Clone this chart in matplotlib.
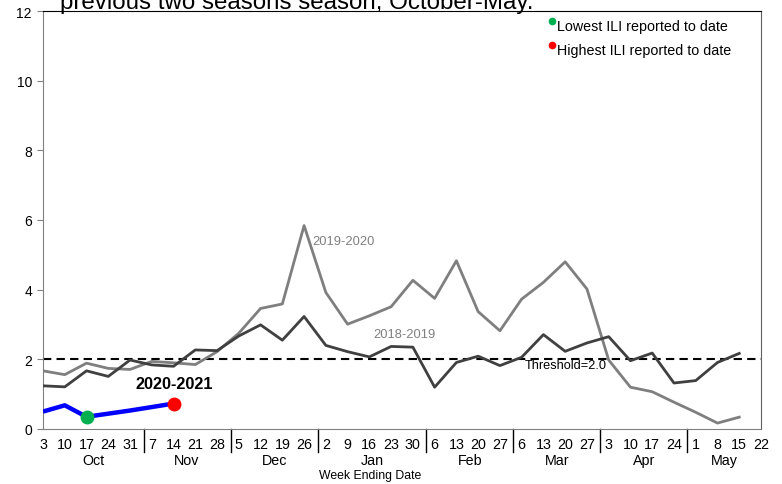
import matplotlib
matplotlib.use("Agg")
import matplotlib.pyplot as plt
import matplotlib.transforms as mtransforms

plt.rcParams['font.family'] = ['Liberation Sans', 'DejaVu Sans']

week_labels = ["3", "10", "17", "24", "31", "7", "14", "21", "28", "5", "12", "19", "26",
               "2", "9", "16", "23", "30", "6", "13", "20", "27", "6", "13", "20", "27",
               "3", "10", "17", "24", "1", "8", "15", "22"]
months = ["Oct", "Nov", "Dec", "Jan", "Feb", "Mar", "Apr", "May"]
month_weeks = [5, 4, 4, 5, 4, 4, 4, 4]

season_2018_2019 = [1.24, 1.21, 1.67, 1.51, 1.98, 1.84, 1.80, 2.27, 2.25, 2.67, 2.99, 2.55,
                    3.23, 2.40, 2.22, 2.07, 2.37, 2.35, 1.20, 1.91, 2.09, 1.82, 2.06, 2.71,
                    2.23, 2.47, 2.65, 1.96, 2.18, 1.32, 1.39, 1.91, 2.17]
season_2019_2020 = [1.67, 1.56, 1.89, 1.74, 1.71, 1.94, 1.90, 1.85, 2.22, 2.75, 3.46, 3.59,
                    5.84, 3.92, 3.01, 3.25, 3.51, 4.27, 3.75, 4.83, 3.37, 2.82, 3.73, 4.21,
                    4.80, 4.02, 1.98, 1.20, 1.07, 0.77, 0.48, 0.17, 0.34]
season_2020_2021 = [0.50, 0.68, 0.35, 0.44, 0.53, 0.63, 0.73]
threshold = 2.0

fig = plt.figure(figsize=(7.82, 4.85), dpi=100)
ax = fig.add_axes([43/782, 55/485, 718/782, 418/485])

x18 = list(range(len(season_2018_2019)))
x19 = list(range(len(season_2019_2020)))
x20 = list(range(len(season_2020_2021)))

ax.plot(x19, season_2019_2020, color='#7f7f7f', lw=2.0, zorder=3)
ax.plot(x18, season_2018_2019, color='#404040', lw=2.0, zorder=3)
ax.axhline(threshold, color='black', lw=1.5, ls=(0, (4, 2.5)), zorder=2)
ax.plot(x20, season_2020_2021, color='#0000ff', lw=3.2, zorder=4, solid_capstyle='butt')

lo = min(range(len(season_2020_2021)), key=lambda i: season_2020_2021[i])
hi = max(range(len(season_2020_2021)), key=lambda i: season_2020_2021[i])
ax.plot([lo], [season_2020_2021[lo]], 'o', color='#00b050', ms=9, zorder=5)
ax.plot([hi], [season_2020_2021[hi]], 'o', color='#ff0000', ms=9, zorder=5)

ax.set_xlim(0, len(week_labels) - 1)
ax.set_ylim(0, 12)
ax.set_yticks(range(0, 13, 2))
ax.set_xticks(range(len(week_labels)))
ax.set_xticklabels(week_labels, fontsize=10.3)
ax.tick_params(axis='x', length=0, pad=6)
ax.tick_params(axis='y', length=4, direction='out', labelsize=10, color='#808080', pad=4)

for side in ['left', 'bottom']:
    ax.spines[side].set_color('#808080')
for side in ['top', 'right']:
    ax.spines[side].set_color('black')
ax.spines['right'].set_color('#606060')

# month separators and labels
trans = mtransforms.blended_transform_factory(ax.transData, ax.transAxes)
start = 0
bounds = []
for n in month_weeks:
    bounds.append((start, start + n - 1))
    start += n
seps = []
for i in range(len(bounds) - 1):
    s = bounds[i][1] + 0.62
    seps.append(s)
    ax.plot([s, s], [0, -0.055], transform=trans, color='black', lw=1, clip_on=False)
edges = [0] + seps + [len(week_labels) - 1]
for i, m in enumerate(months):
    cx = (edges[i] + edges[i + 1]) / 2
    ax.text(cx, -0.074, m, transform=trans, ha='center', va='center', fontsize=10.3)

ax.text(0.455, -0.11, "Week Ending Date", transform=ax.transAxes, ha='center', va='center', fontsize=8.8)

# annotations
ax.text(12.4, 5.4, "2019-2020", color='#808080', fontsize=9.3, va='center', ha='left')
ax.text(15.2, 2.73, "2018-2019", color='#808080', fontsize=9.3, va='center', ha='left')
ax.text(22.15, 1.83, "Threshold=2.0", color='black', fontsize=9.2, va='center', ha='left')
ax.text(6.05, 1.3, "2020-2021", color='black', fontsize=11.7, fontweight='bold', va='center', ha='center')

# legend-like markers
ax.plot([0.709], [0.976], 'o', color='#00b050', ms=4.5, transform=ax.transAxes, clip_on=False)
ax.plot([0.709], [0.919], 'o', color='#ff0000', ms=4.5, transform=ax.transAxes, clip_on=False)
ax.text(0.716, 0.963, "Lowest ILI reported to date", transform=ax.transAxes, fontsize=10.3, va='center', ha='left')
ax.text(0.716, 0.906, "Highest ILI reported to date", transform=ax.transAxes, fontsize=10.3, va='center', ha='left')

fig.text(60/782, 1 - 9/485, "previous two seasons season, October-May.", fontsize=17.4, va='baseline', ha='left')

fig.savefig("out.png", dpi=100)
